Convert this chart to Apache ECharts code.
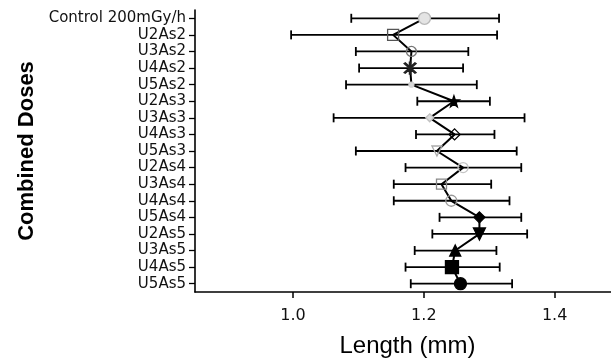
<!DOCTYPE html>
<html>
<head>
<meta charset="utf-8">
<script src="https://cdn.jsdelivr.net/npm/echarts@6/dist/echarts.min.js"></script>
<style>
  html, body { margin: 0; padding: 0; background: #fff; }
  #chart { width: 611px; height: 361px; }
</style>
</head>
<body>
<div id="chart"></div>
<script>
// Dose groups, top to bottom
var categories = [
  'Control 200mGy/h', 'U2As2', 'U3As2', 'U4As2', 'U5As2',
  'U2As3', 'U3As3', 'U4As3', 'U5As3',
  'U2As4', 'U3As4', 'U4As4', 'U5As4',
  'U2As5', 'U3As5', 'U4As5', 'U5As5'
];
// Mean length (mm) per group
var means = [1.201, 1.153, 1.181, 1.179, 1.181, 1.246, 1.209, 1.247, 1.220,
             1.260, 1.227, 1.242, 1.285, 1.285, 1.248, 1.243, 1.256];
// Error bar ends (mm)
var lows  = [1.089, 0.997, 1.096, 1.101, 1.081, 1.190, 1.062, 1.188, 1.096,
             1.172, 1.154, 1.154, 1.224, 1.213, 1.186, 1.172, 1.180];
var highs = [1.315, 1.312, 1.268, 1.260, 1.281, 1.301, 1.354, 1.308, 1.342,
             1.349, 1.303, 1.331, 1.349, 1.358, 1.311, 1.316, 1.335];
// Labelled x ticks
var xTicks = [1.0, 1.2, 1.4];

var STAR = 'path://M0,-10 L2.4,-3.2 L9.5,-3.1 L3.8,1.2 L5.9,8.1 L0,4 L-5.9,8.1 L-3.8,1.2 L-9.5,-3.1 L-2.4,-3.2 Z';
var CROSS = 'path://M-5,-6 L-4,-7 L0,-1.4 L4,-7 L5,-6 L0.8,0 L5,6 L4,7 L0,1.4 L-4,7 L-5,6 L-0.8,0 Z M-0.6,-8 L0.6,-8 L0.6,8 L-0.6,8 Z';

// Marker look for each group
var markerStyles = [
  { symbol: 'circle',   size: 12, fill: '#e4e4e4', stroke: '#b8b8b8', rot: 0 },
  { symbol: 'rect',     size: 11, fill: 'rgba(0,0,0,0)', stroke: '#555', rot: 0 },
  { symbol: 'circle',   size: 10, fill: 'rgba(0,0,0,0)', stroke: '#777', rot: 0 },
  { symbol: CROSS,      size: 12, fill: '#222', stroke: '#222', rot: 0 },
  { symbol: 'circle',   size: 5,  fill: '#d8d8d8', stroke: '#d0d0d0', rot: 0 },
  { symbol: STAR,       size: 11, fill: '#000', stroke: '#000', rot: 0 },
  { symbol: 'diamond',  size: 8,  fill: '#ddd', stroke: '#c0c0c0', rot: 0 },
  { symbol: 'diamond',  size: 11, fill: 'rgba(0,0,0,0)', stroke: '#000', rot: 0 },
  { symbol: 'triangle', size: 10, fill: 'rgba(0,0,0,0)', stroke: '#aaa', rot: 180 },
  { symbol: 'circle',   size: 10, fill: 'rgba(0,0,0,0)', stroke: '#c4c4c4', rot: 0 },
  { symbol: 'rect',     size: 10, fill: 'rgba(0,0,0,0)', stroke: '#888', rot: 0 },
  { symbol: 'circle',   size: 11, fill: 'rgba(0,0,0,0)', stroke: '#999', rot: 0 },
  { symbol: 'diamond',  size: 11, fill: '#000', stroke: '#000', rot: 0 },
  { symbol: 'triangle', size: 12, fill: '#000', stroke: '#000', rot: 180 },
  { symbol: 'triangle', size: 11, fill: '#000', stroke: '#000', rot: 0 },
  { symbol: 'rect',     size: 13, fill: '#000', stroke: '#000', rot: 0 },
  { symbol: 'circle',   size: 12, fill: '#000', stroke: '#000', rot: 0 }
];

var errData = categories.map(function (c, i) { return [i, lows[i], highs[i]]; });
var meanData = means.map(function (m, i) {
  var s = markerStyles[i];
  return {
    value: [m, i],
    symbol: s.symbol,
    symbolSize: s.size,
    symbolRotate: s.rot,
    itemStyle: { color: s.fill, borderColor: s.stroke, borderWidth: 1.3 }
  };
});

var chart = echarts.init(document.getElementById('chart'), null, { renderer: 'canvas' });
chart.setOption({
  animation: false,
  backgroundColor: '#fff',
  grid: { left: 195, right: -9, top: 10, bottom: 69, containLabel: false, outerBoundsMode: 'none' },
  xAxis: {
    type: 'value',
    min: 0.85,
    max: 1.5,
    name: 'Length (mm)',
    nameLocation: 'middle',
    nameGap: 42,
    nameTextStyle: { fontFamily: 'Liberation Sans', fontSize: 24, color: '#000' },
    axisLine: { show: true, lineStyle: { color: '#000', width: 1.6 } },
    axisTick: { show: true, customValues: xTicks, length: 6, lineStyle: { color: '#000', width: 1.5 } },
    axisLabel: {
      customValues: xTicks, margin: 16,
      fontFamily: 'DejaVu Sans', fontSize: 16, color: '#111',
      formatter: function (v) { return v.toFixed(1); }
    },
    splitLine: { show: false }
  },
  yAxis: {
    type: 'category',
    data: categories,
    inverse: true,
    boundaryGap: true,
    name: 'Combined Doses',
    nameLocation: 'middle',
    nameGap: 156,
    nameRotate: 90,
    nameTextStyle: { fontFamily: 'Liberation Sans', fontWeight: 'bold', fontSize: 22, color: '#000' },
    axisLine: { show: true, lineStyle: { color: '#000', width: 1.6 } },
    axisTick: { show: true, alignWithLabel: true, interval: 0, length: 6, lineStyle: { color: '#000', width: 1.3 } },
    axisLabel: { interval: 0, margin: 9, fontFamily: 'DejaVu Sans', fontSize: 15, color: '#111' },
    splitLine: { show: false }
  },
  series: [
    {
      type: 'custom',
      name: 'range',
      data: errData,
      encode: { x: [1, 2], y: 0 },
      z: 1,
      renderItem: function (params, api) {
        var yi = api.value(0);
        var p0 = api.coord([api.value(1), yi]);
        var p1 = api.coord([api.value(2), yi]);
        var h = 4.5;
        var st = { stroke: '#000', lineWidth: 1.8 };
        return {
          type: 'group',
          children: [
            { type: 'line', shape: { x1: p0[0], y1: p0[1], x2: p1[0], y2: p1[1] }, style: st },
            { type: 'line', shape: { x1: p0[0], y1: p0[1] - h, x2: p0[0], y2: p0[1] + h }, style: st },
            { type: 'line', shape: { x1: p1[0], y1: p1[1] - h, x2: p1[0], y2: p1[1] + h }, style: st }
          ]
        };
      }
    },
    {
      type: 'line',
      name: 'mean',
      data: meanData,
      z: 3,
      lineStyle: { color: '#000', width: 2 },
      showAllSymbol: true
    }
  ]
});
</script>
</body>
</html>
